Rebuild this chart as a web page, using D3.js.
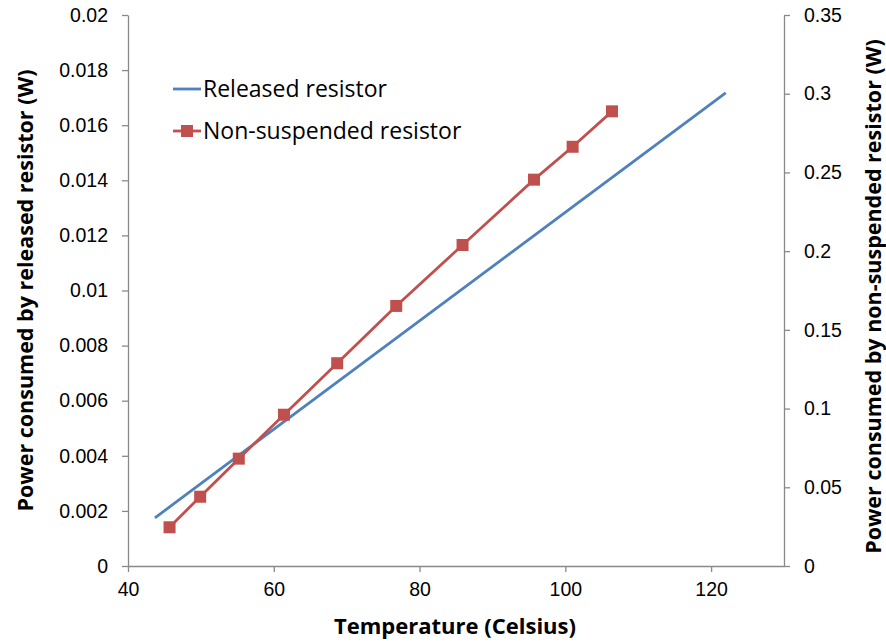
<!DOCTYPE html>
<html>
<head>
<meta charset="utf-8">
<script src="https://cdn.jsdelivr.net/npm/d3@7"></script>
<style>
  html, body { margin: 0; padding: 0; background: #fff; }
  svg { display: block; font-family: "Open Sans", "DejaVu Sans", sans-serif; }
</style>
</head>
<body>
<svg id="chart" width="886" height="643"></svg>
<script>
// Released resistor: linear fit of power vs temperature (left axis, W)
const releasedTemp = [43.7, 122.0];
const releasedPower = [0.00175, 0.01717];

// Non-suspended resistor: measured points (right axis, W)
const nonSuspTemp = [45.7, 49.9, 55.2, 61.4, 68.7, 76.8, 85.9, 95.7, 101.0, 106.4];
const nonSuspPower = [0.0246, 0.0440, 0.0682, 0.0961, 0.1288, 0.1652, 0.2039, 0.2454, 0.2663, 0.2888];

const xTicks = [40, 60, 80, 100, 120];
const leftTicks = [0, 0.002, 0.004, 0.006, 0.008, 0.01, 0.012, 0.014, 0.016, 0.018, 0.02];
const rightTicks = [0, 0.05, 0.1, 0.15, 0.2, 0.25, 0.3, 0.35];

const seriesNames = ["Released resistor", "Non-suspended resistor"];
const seriesColors = ["#4F81BD", "#C0504D"];

const axisColor = "#898989";
const svg = d3.select("#chart");

const plot = { left: 128, right: 784, top: 15, bottom: 566 };

const x = d3.scaleLinear().domain([40, 130]).range([plot.left, plot.right]);
const yL = d3.scaleLinear().domain([0, 0.02]).range([plot.bottom, plot.top]);
const yR = d3.scaleLinear().domain([0, 0.35]).range([plot.bottom, plot.top]);

function styleAxis(g) {
  g.select(".domain").attr("stroke", axisColor).attr("stroke-width", 1.3);
  g.selectAll(".tick line").attr("stroke", axisColor).attr("stroke-width", 1.3);
  g.selectAll(".tick text").attr("fill", "#000").style("font-size", "19.5px");
}

// x axis
svg.append("g")
  .attr("transform", `translate(0,${plot.bottom})`)
  .call(d3.axisBottom(x).tickValues(xTicks).tickSize(6).tickSizeOuter(0).tickPadding(10).tickFormat(d3.format("d")))
  .call(styleAxis);

// left axis
svg.append("g")
  .attr("transform", `translate(${plot.left},0)`)
  .call(d3.axisLeft(yL).tickValues(leftTicks).tickSize(6).tickSizeOuter(0).tickPadding(14)
    .tickFormat(d => d === 0 ? "0" : String(+d.toFixed(3))))
  .call(styleAxis);

// right axis
svg.append("g")
  .attr("transform", `translate(${plot.right},0)`)
  .call(d3.axisRight(yR).tickValues(rightTicks).tickSize(6).tickSizeOuter(0).tickPadding(14)
    .tickFormat(d => d === 0 ? "0" : String(+d.toFixed(2))))
  .call(styleAxis);

// axis titles
svg.append("text")
  .attr("x", (plot.left + plot.right) / 2 - 1)
  .attr("y", 634)
  .attr("text-anchor", "middle")
  .style("font-size", "22px").style("font-weight", "bold")
  .text("Temperature (Celsius)");

svg.append("text")
  .attr("transform", `translate(33,${(plot.top + plot.bottom) / 2}) rotate(-90)`)
  .attr("text-anchor", "middle")
  .style("font-size", "21.5px").style("font-weight", "bold")
  .text("Power consumed by released resistor (W)");

svg.append("text")
  .attr("transform", `translate(881,${(plot.top + plot.bottom) / 2 + 6}) rotate(-90)`)
  .attr("text-anchor", "middle")
  .style("font-size", "21.5px").style("font-weight", "bold")
  .text("Power consumed by non-suspended resistor (W)");

// released resistor line (left axis)
const releasedData = releasedTemp.map((t, i) => [t, releasedPower[i]]);
svg.append("path")
  .datum(releasedData)
  .attr("fill", "none")
  .attr("stroke", seriesColors[0])
  .attr("stroke-width", 2.8)
  .attr("d", d3.line().x(d => x(d[0])).y(d => yL(d[1])));

// non-suspended resistor line + square markers (right axis)
const nonSuspData = nonSuspTemp.map((t, i) => [t, nonSuspPower[i]]);
svg.append("path")
  .datum(nonSuspData)
  .attr("fill", "none")
  .attr("stroke", seriesColors[1])
  .attr("stroke-width", 2.8)
  .attr("d", d3.line().x(d => x(d[0])).y(d => yR(d[1])));

const mk = 12;
svg.append("g").selectAll("rect")
  .data(nonSuspData)
  .join("rect")
  .attr("x", d => x(d[0]) - mk / 2)
  .attr("y", d => yR(d[1]) - mk / 2)
  .attr("width", mk).attr("height", mk)
  .attr("fill", seriesColors[1]);

// legend
const legend = svg.append("g").attr("transform", "translate(173,0)");
const legendRows = [89, 131];
seriesNames.forEach((name, i) => {
  const row = legend.append("g").attr("transform", `translate(0,${legendRows[i]})`);
  row.append("line")
    .attr("x1", 0).attr("x2", 28).attr("y1", 0).attr("y2", 0)
    .attr("stroke", seriesColors[i]).attr("stroke-width", 2.8);
  if (i === 1) {
    row.append("rect").attr("x", 14 - 6).attr("y", -6).attr("width", 12).attr("height", 12)
      .attr("fill", seriesColors[i]);
  }
  row.append("text")
    .attr("x", 30).attr("y", 0).attr("dy", "0.35em")
    .style("font-size", "23px")
    .text(name);
});
</script>
</body>
</html>
